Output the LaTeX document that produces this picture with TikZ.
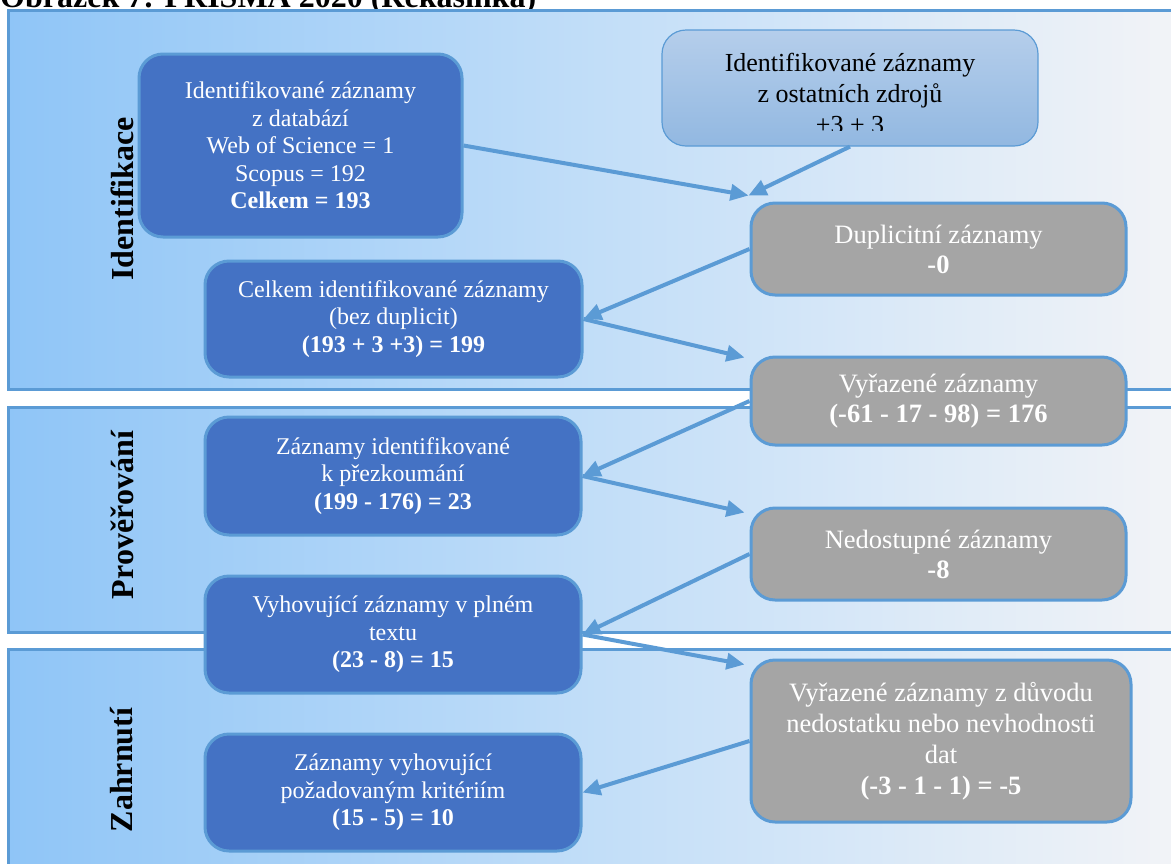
\documentclass[tikz,border=0pt]{standalone}
\usepackage{fontspec}
\setmainfont{Liberation Serif}
\usetikzlibrary{arrows.meta}
\definecolor{edgeblue}{HTML}{5B9BD5}
\definecolor{boxblue}{HTML}{4472C4}
\definecolor{boxgray}{HTML}{A5A5A5}
\definecolor{bandleft}{HTML}{8FC5F7}
\definecolor{bandmid}{HTML}{C2DEF8}
\definecolor{bandright}{HTML}{F3F4F7}
\definecolor{srctop}{HTML}{B5CEEB}
\definecolor{srcbot}{HTML}{92B8E1}
\newcommand{\bodyfont}{\fontsize{24}{27.5}\selectfont}
\newcommand{\sidefont}{\fontsize{26.5}{30}\selectfont}
\newcommand{\phasefont}{\bfseries\fontsize{32}{36}\selectfont}
\newcommand{\titlefont}{\bfseries\fontsize{32}{36}\selectfont}

\begin{document}
\begin{tikzpicture}[x=1pt,y=-1pt,
  band/.style={left color=bandleft, right color=bandright, middle color=bandmid},
  bandedge/.style={draw=edgeblue, line width=3pt},
  stage/.style={rectangle, rounded corners=24pt, draw=edgeblue, line width=3pt,
    align=center, inner sep=0pt, text=white},
  bluebox/.style={stage, fill=boxblue, font=\bodyfont},
  graybox/.style={stage, fill=boxgray, font=\sidefont},
  flow/.style={draw=edgeblue, line width=4pt, -{Triangle[length=18pt,width=16pt]}},
  phase/.style={font=\phasefont, rotate=90, inner sep=0pt}
]
\useasboundingbox (0,0) rectangle (1171,863);

% caption line above the chart
\node[anchor=base west, font=\titlefont, inner sep=0pt] (title) at (0,7)
  {Obrázek 7: PRISMA 2020 (Rekasinka)};

% phase bands
\shade[band] (8,10) rectangle (1190,389);
\draw[bandedge] (1190,389) -- (8,389) -- (8,10) -- (1190,10);
\shade[band] (8,407) rectangle (1190,632);
\draw[bandedge] (1190,632) -- (8,632) -- (8,407) -- (1190,407);
\shade[band] (8,649) rectangle (1190,880);
\draw[bandedge] (8,880) -- (8,649) -- (1190,649);

\node[phase] (ph1) at (122,199) {Identifikace};
\node[phase] (ph2) at (122,515) {Prověřování};
\node[phase] (ph3) at (122,770) {Zahrnutí};

% left column
\node[bluebox, minimum width=323pt, minimum height=183pt] (b1) at (300.5,145.5)
  {Identifikované záznamy\\z databází\\Web of Science = 1\\Scopus = 192\\\textbf{Celkem = 193}};
\node[bluebox, minimum width=377pt, minimum height=116pt] (b2) at (393.5,319)
  {Celkem identifikované záznamy\\(bez duplicit)\\\textbf{(193 + 3 +3) = 199}};
\node[bluebox, minimum width=376pt, minimum height=118pt] (b3) at (393,476)
  {Záznamy identifikované\\k přezkoumání\\\textbf{(199 - 176) = 23}};
\node[bluebox, minimum width=376pt, minimum height=117pt] (b4) at (393,634.5)
  {Vyhovující záznamy v plném\\textu\\\textbf{(23 - 8) = 15}};
\node[bluebox, minimum width=376pt, minimum height=117pt] (b5) at (393,792.5)
  {Záznamy vyhovující\\požadovaným kritériím\\\textbf{(15 - 5) = 10}};

% other sources box, its last line cut by the box inset
\node[rectangle, rounded corners=24pt, draw=edgeblue, line width=1.2pt,
  top color=srctop, bottom color=srcbot, minimum width=376pt, minimum height=116pt]
  (src) at (850,88) {};
\begin{scope}
  \clip (662,30) rectangle (1038,130);
  \node[align=center, font=\fontsize{26}{31}\selectfont, text=black, inner sep=0pt]
    (srctext) at (850,93) {Identifikované záznamy\\z ostatních zdrojů\\+3 + 3};
\end{scope}

% right column
\node[graybox, minimum width=375pt, minimum height=92pt] (dup) at (938.5,249)
  {Duplicitní záznamy\\\textbf{-0}};
\node[graybox, minimum width=375pt, minimum height=88pt] (vyr) at (938.5,401)
  {Vyřazené záznamy\\\textbf{(-61 - 17 - 98) = 176}};
\node[graybox, minimum width=375pt, minimum height=92pt] (ned) at (938.5,554)
  {Nedostupné záznamy\\\textbf{-8}};
\node[graybox, font=\fontsize{26.5}{31}\selectfont, minimum width=380pt, minimum height=162pt]
  (def) at (941,741)
  {Vyřazené záznamy z důvodu\\nedostatku nebo nevhodnosti\\dat\\\textbf{(-3 - 1 - 1) = -5}};

% connectors
\coordinate (meet) at ([xshift=-1pt,yshift=6pt]dup.north west);
\draw[flow] (b1.east) -- (meet);
\draw[flow] (src.south) -- (meet);
\draw[flow] (dup.west) -- (b2.east);
\draw[flow] (b2.east) -- ([xshift=-5pt,yshift=-2pt]vyr.north west);
\draw[flow] (vyr.west) -- (b3.east);
\draw[flow] (b3.east) -- ([xshift=-5pt,yshift=-6pt]ned.north west);
\draw[flow] (ned.west) -- (b4.east);
\draw[flow] (b4.east) -- ([xshift=-5pt,yshift=-6pt]def.north west);
\draw[flow] (def.west) -- (b5.east);
\end{tikzpicture}
\end{document}
